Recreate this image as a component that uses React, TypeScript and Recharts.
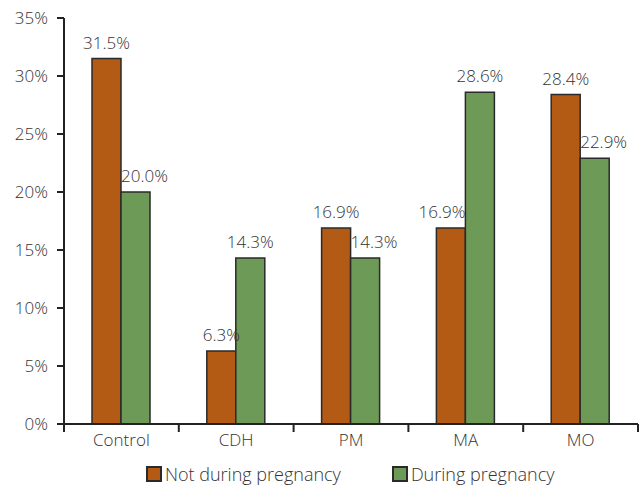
import React from "react";
import {
  BarChart,
  Bar,
  XAxis,
  YAxis,
  LabelList,
} from "recharts";

const categories = ["Control", "CDH", "PM", "MA", "MO"];
const notDuring = [31.5, 6.3, 16.9, 16.9, 28.4];
const during = [20.0, 14.3, 14.3, 28.6, 22.9];
const yTicks = [0, 5, 10, 15, 20, 25, 30, 35];
const seriesNames = ["Not during pregnancy", "During pregnancy"];
const seriesColors = ["#B35A14", "#6E9A57"];

// where each value label sits over its bar
const notDuringAnchor = ["middle", "middle", "middle", "end", "middle"];
const duringAnchor = ["start", "middle", "start", "middle", "start"];

const data = categories.map((name, i) => ({
  name,
  notDuring: notDuring[i],
  during: during[i],
}));

const font = "'Open Sans', Roboto, sans-serif";
const textColor = "#333";
const axisColor = "#222";

const CategoryTick = (props: any) => {
  const { x, y, payload, index } = props;
  const half = payload.offset || 0;
  return (
    <g>
      <line x1={x - half} x2={x - half} y1={y - 8} y2={y} stroke={axisColor} strokeWidth={2} />
      {index === categories.length - 1 && (
        <line x1={x + half} x2={x + half} y1={y - 8} y2={y} stroke={axisColor} strokeWidth={2} />
      )}
      <text
        x={x}
        y={y + 14}
        textAnchor="middle"
        fill={textColor}
        fontSize={17}
        fontFamily={font}
        fontWeight={300}
      >
        {payload.value}
      </text>
    </g>
  );
};

const makeLabel = (anchors: string[]) => (props: any) => {
  const { x, y, width, value, index } = props;
  const a = anchors[index] || "middle";
  const tx = a === "start" ? x : a === "end" ? x + width : x + width / 2;
  return (
    <text
      x={tx}
      y={y - 10}
      textAnchor={a}
      fill={textColor}
      fontSize={17}
      fontFamily={font}
      fontWeight={300}
    >
      {`${Number(value).toFixed(1)}%`}
    </text>
  );
};

export default function App() {
  return (
    <div style={{ position: "absolute", left: 0, top: 0, width: 640, height: 487, background: "#fff" }}>
      <BarChart
        width={640}
        height={450}
        data={data}
        margin={{ top: 18, right: 2, bottom: 0, left: 0 }}
        barCategoryGap={28}
        barGap={0}
      >
        <XAxis
          dataKey="name"
          tickLine={false}
          axisLine={{ stroke: axisColor, strokeWidth: 2 }}
          tick={<CategoryTick />}
          height={26}
          interval={0}
        />
        <YAxis
          width={64}
          domain={[0, 35]}
          ticks={yTicks}
          tickFormatter={(v) => `${v}%`}
          tickSize={7}
          tickMargin={9}
          tickLine={{ stroke: axisColor, strokeWidth: 2 }}
          axisLine={{ stroke: axisColor, strokeWidth: 2 }}
          tick={{ fill: textColor, fontSize: 17, fontFamily: font, fontWeight: 300 }}
        />
        <Bar
          dataKey="notDuring"
          fill={seriesColors[0]}
          stroke="#2a2a2a"
          strokeWidth={1.5}
          isAnimationActive={false}
        >
          <LabelList dataKey="notDuring" content={makeLabel(notDuringAnchor)} />
        </Bar>
        <Bar
          dataKey="during"
          fill={seriesColors[1]}
          stroke="#2a2a2a"
          strokeWidth={1.5}
          isAnimationActive={false}
        >
          <LabelList dataKey="during" content={makeLabel(duringAnchor)} />
        </Bar>
      </BarChart>
      <div
        style={{
          position: "absolute",
          top: 464,
          left: 146,
          display: "flex",
          fontFamily: font,
          fontWeight: 300,
          fontSize: 18,
          color: textColor,
          lineHeight: "20px",
          whiteSpace: "nowrap",
        }}
      >
        {seriesNames.map((name, i) => (
          <div key={name} style={{ display: "flex", alignItems: "center", marginRight: i === 0 ? 51 : 0 }}>
            <span
              style={{
                display: "inline-block",
                width: 12,
                height: 12,
                background: seriesColors[i],
                border: "2px solid #2a2a2a",
                marginRight: 3,
              }}
            />
            {name}
          </div>
        ))}
      </div>
    </div>
  );
}
